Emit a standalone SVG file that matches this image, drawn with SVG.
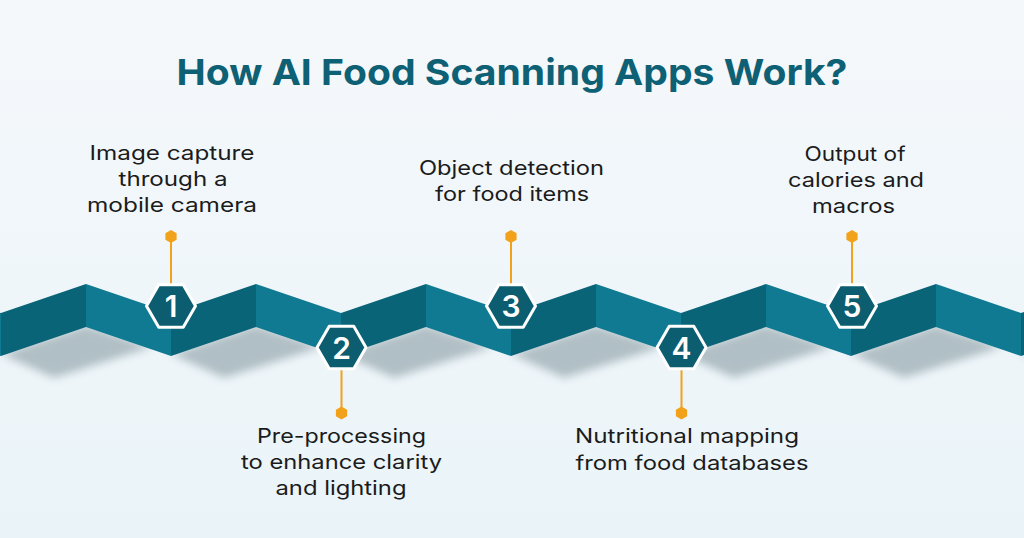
<svg xmlns="http://www.w3.org/2000/svg" width="1024" height="538" viewBox="0 0 1024 538">
  <defs>
    <linearGradient id="bg" x1="0" y1="0" x2="0" y2="1">
      <stop offset="0" stop-color="#f5f8fb"/>
      <stop offset="1" stop-color="#eaf4f8"/>
    </linearGradient>
    <filter id="blur" x="-50%" y="-50%" width="200%" height="200%">
      <feGaussianBlur stdDeviation="4.5"/>
    </filter>
    <g id="period">
      <polygon class="light" points="0,284 85,313 85,356 0,327"/>
      <polygon class="dark" points="85,313 170,284 170,327 85,356"/>
    </g>
    <polygon id="shadow" points="85,354 170,325 236,347 138,378"/>
    <polygon id="bighex" points="-24.5,0 -12.25,-21.2 12.25,-21.2 24.5,0 12.25,21.2 -12.25,21.2"/>
    <polygon id="dot" points="0,-6.5 5.6,-3.25 5.6,3.25 0,6.5 -5.6,3.25 -5.6,-3.25"/>
  </defs>
  <style>
    .light { fill: #0f7a91; }
    .dark { fill: #0a6478; }
    .shadow { fill: #566f78; opacity: 0.4; filter: url(#blur); }
    .hex { fill: #0b5d6f; stroke: #ffffff; stroke-width: 3; stroke-linejoin: round; }
    .num { font-family: Inter, "DejaVu Sans", sans-serif; font-weight: 600; font-size: 30px; fill: #ffffff; text-anchor: middle; }
    .title { font-family: Inter, "DejaVu Sans", sans-serif; font-weight: 700; font-size: 36px; fill: #0e6074; text-anchor: middle; }
    .label { font-family: Inter, "DejaVu Sans", sans-serif; font-weight: 400; font-size: 20px; fill: #1b1b1b; text-anchor: middle; }
    .conn { stroke: #f2a11a; stroke-width: 2; fill: none; }
    .dotc { fill: #f2a11a; }
  </style>

  <rect x="0" y="0" width="1024" height="538" fill="url(#bg)"/>

  <text class="title" x="512" y="85" textLength="671" lengthAdjust="spacingAndGlyphs">How AI Food Scanning Apps Work?</text>

  <g id="ribbon">
    <g id="shadows">
      <use href="#shadow" class="shadow" x="-84"/>
      <use href="#shadow" class="shadow" x="86"/>
      <use href="#shadow" class="shadow" x="256"/>
      <use href="#shadow" class="shadow" x="426"/>
      <use href="#shadow" class="shadow" x="596"/>
      <use href="#shadow" class="shadow" x="766"/>
      <use href="#shadow" class="shadow" x="936"/>
    </g>
    <use href="#period" x="-84"/>
    <use href="#period" x="86"/>
    <use href="#period" x="256"/>
    <use href="#period" x="426"/>
    <use href="#period" x="596"/>
    <use href="#period" x="766"/>
    <use href="#period" x="936"/>
  </g>

  <g id="connectors">
    <line class="conn" x1="171" y1="242" x2="171" y2="284"/>
    <use href="#dot" class="dotc" x="171" y="236.5"/>
    <line class="conn" x1="341.5" y1="370" x2="341.5" y2="408"/>
    <use href="#dot" class="dotc" x="341.5" y="413"/>
    <line class="conn" x1="511" y1="242" x2="511" y2="284"/>
    <use href="#dot" class="dotc" x="511" y="236.5"/>
    <line class="conn" x1="681.5" y1="370" x2="681.5" y2="408"/>
    <use href="#dot" class="dotc" x="681.5" y="413"/>
    <line class="conn" x1="852" y1="242" x2="852" y2="284"/>
    <use href="#dot" class="dotc" x="852" y="236.5"/>
  </g>

  <g id="step1">
    <use href="#bighex" class="hex" x="171" y="306"/>
    <text class="num" x="171" y="317">1</text>
    <text class="label" x="172" y="160" textLength="165" lengthAdjust="spacingAndGlyphs">Image capture</text>
    <text class="label" x="173" y="186" textLength="109" lengthAdjust="spacingAndGlyphs">through a</text>
    <text class="label" x="172" y="212" textLength="170" lengthAdjust="spacingAndGlyphs">mobile camera</text>
  </g>

  <g id="step2">
    <use href="#bighex" class="hex" x="341.5" y="347.5"/>
    <text class="num" x="341.5" y="358.5">2</text>
    <text class="label" x="341.5" y="443" textLength="169" lengthAdjust="spacingAndGlyphs">Pre-processing</text>
    <text class="label" x="341.5" y="469" textLength="201" lengthAdjust="spacingAndGlyphs">to enhance clarity</text>
    <text class="label" x="341" y="495" textLength="131" lengthAdjust="spacingAndGlyphs">and lighting</text>
  </g>

  <g id="step3">
    <use href="#bighex" class="hex" x="511" y="306"/>
    <text class="num" x="511" y="317">3</text>
    <text class="label" x="511.5" y="175" textLength="185" lengthAdjust="spacingAndGlyphs">Object detection</text>
    <text class="label" x="512" y="201" textLength="154" lengthAdjust="spacingAndGlyphs">for food items</text>
  </g>

  <g id="step4">
    <use href="#bighex" class="hex" x="681.5" y="347.5"/>
    <text class="num" x="681.5" y="358.5">4</text>
    <text class="label" x="687" y="443" textLength="224" lengthAdjust="spacingAndGlyphs">Nutritional mapping</text>
    <text class="label" x="692" y="470" textLength="233" lengthAdjust="spacingAndGlyphs">from food databases</text>
  </g>

  <g id="step5">
    <use href="#bighex" class="hex" x="852" y="306"/>
    <text class="num" x="852" y="317">5</text>
    <text class="label" x="855" y="161" textLength="101" lengthAdjust="spacingAndGlyphs">Output of</text>
    <text class="label" x="856" y="187" textLength="136" lengthAdjust="spacingAndGlyphs">calories and</text>
    <text class="label" x="853.5" y="213" textLength="83" lengthAdjust="spacingAndGlyphs">macros</text>
  </g>
</svg>
